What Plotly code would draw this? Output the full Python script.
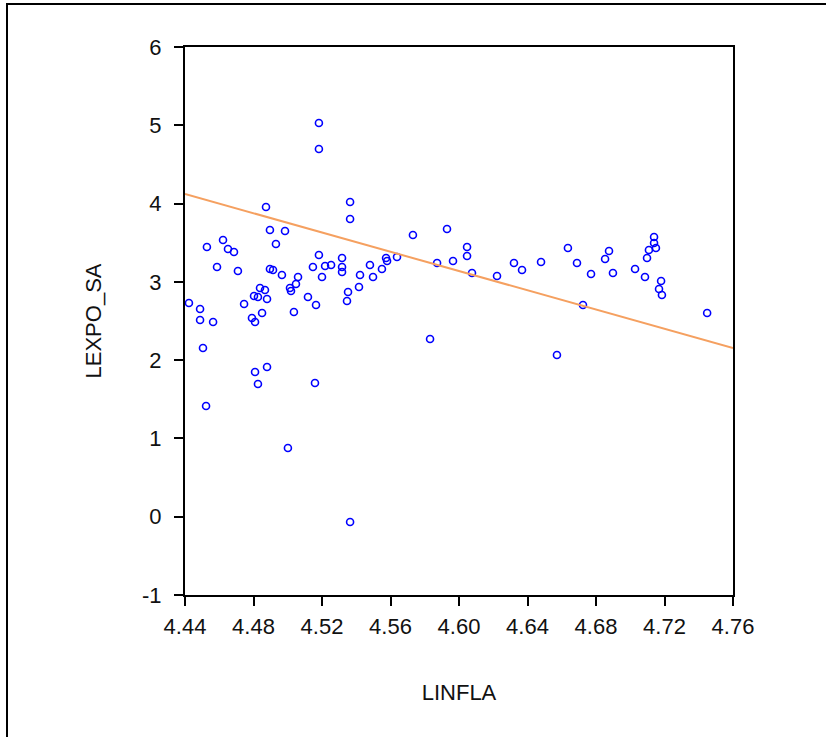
import plotly.graph_objects as go

linfla = [4.4423, 4.4488, 4.4488, 4.4528, 4.4505, 4.4523, 4.4564, 4.4587, 4.4622, 4.4651,
          4.4686, 4.4709, 4.4745, 4.4791, 4.4809, 4.4803, 4.4826, 4.4809, 4.4826, 4.4838,
          4.4867, 4.4879, 4.4850, 4.4873, 4.4879, 4.4896, 4.4896, 4.4914, 4.4931, 4.4966,
          4.4984, 4.5001, 4.5013, 4.5019, 4.5036, 4.5048, 4.5060, 4.5118, 4.5165, 4.5159,
          4.5182, 4.5182, 4.5182, 4.5147, 4.5200, 4.5218, 4.5253, 4.5317, 4.5317, 4.5317,
          4.5346, 4.5352, 4.5364, 4.5364, 4.5364, 4.5416, 4.5422, 4.5480, 4.5498, 4.5550,
          4.5574, 4.5580, 4.5638, 4.5731, 4.5831, 4.5872, 4.5930, 4.5965, 4.6047, 4.6047,
          4.6076, 4.6222, 4.6321, 4.6368, 4.6479, 4.6572, 4.6636, 4.6689, 4.6724, 4.6771,
          4.6853, 4.6876, 4.6899, 4.7028, 4.7086, 4.7098, 4.7109, 4.7139, 4.7139, 4.7150,
          4.7168, 4.7180, 4.7185, 4.7449]

lexpo_sa = [2.730, 2.653, 2.513, 3.445, 2.155, 1.415, 2.487, 3.190, 3.535, 3.420,
            3.382, 3.139, 2.717, 2.539, 2.487, 2.820, 2.807, 1.849, 1.695, 2.922,
            2.896, 2.781, 2.602, 3.956, 1.913, 3.663, 3.164, 3.152, 3.484, 3.088,
            3.650, 0.878, 2.922, 2.883, 2.615, 2.973, 3.062, 2.807, 2.705, 1.708,
            5.029, 4.697, 3.343, 3.190, 3.062, 3.203, 3.215, 3.305, 3.190, 3.126,
            2.756, 2.871, -0.067, 4.020, 3.803, 2.935, 3.088, 3.215, 3.062, 3.164,
            3.305, 3.267, 3.318, 3.599, 2.270, 3.241, 3.675, 3.267, 3.445, 3.330,
            3.113, 3.075, 3.241, 3.152, 3.254, 2.066, 3.433, 3.241, 2.705, 3.100,
            3.292, 3.394, 3.113, 3.164, 3.062, 3.305, 3.407, 3.573, 3.497, 3.433,
            2.909, 3.011, 2.833, 2.602]

fit_x = [4.44, 4.76]
fit_y = [4.122, 2.155]

x_ticks = [4.44, 4.48, 4.52, 4.56, 4.60, 4.64, 4.68, 4.72, 4.76]
x_tick_labels = ["4.44", "4.48", "4.52", "4.56", "4.60", "4.64", "4.68", "4.72", "4.76"]
y_ticks = [-1, 0, 1, 2, 3, 4, 5, 6]
y_tick_labels = ["-1", "0", "1", "2", "3", "4", "5", "6"]

fig = go.Figure()
fig.add_trace(go.Scatter(
    x=linfla, y=lexpo_sa, mode="markers",
    marker=dict(symbol="circle-open", size=7, color="#0000FF", line=dict(width=1.6, color="#0000FF")),
    showlegend=False, cliponaxis=False))
fig.add_trace(go.Scatter(
    x=fit_x, y=fit_y, mode="lines",
    line=dict(color="#F5A060", width=2), showlegend=False))

W, H = 826, 737
L, R, T, B = 185, 733, 47, 595
pw, ph = R - L, B - T

def px(xp):
    return (xp - L) / pw

def py(yp):
    return (B - yp) / ph

fig.add_shape(type="rect", xref="paper", yref="paper",
              x0=px(7), x1=px(840), y0=py(750), y1=py(4),
              line=dict(color="black", width=2), fillcolor="rgba(0,0,0,0)", layer="below")

font = dict(family="Liberation Sans, Arial, sans-serif", size=22, color="#111111")

fig.update_layout(
    width=W, height=H,
    margin=dict(l=L, r=W - R, t=T, b=H - B, pad=0),
    paper_bgcolor="white", plot_bgcolor="white",
    font=font,
    xaxis=dict(range=[4.44, 4.76], tickvals=x_ticks, ticktext=x_tick_labels,
               showgrid=False, zeroline=False, showline=True, linecolor="black", linewidth=2,
               mirror=True, ticks="outside", ticklen=9, tickwidth=2, tickcolor="black",
               tickfont=font, ticklabelstandoff=2,
               title=dict(text="LINFLA", font=font, standoff=46)),
    yaxis=dict(range=[-1, 6], tickvals=y_ticks, ticktext=y_tick_labels,
               showgrid=False, zeroline=False, showline=True, linecolor="black", linewidth=2,
               mirror=True, ticks="outside", ticklen=9, tickwidth=2, tickcolor="black",
               tickfont=font, ticklabelstandoff=8,
               title=dict(text="LEXPO_SA", font=font, standoff=34)),
)

fig.write_html("out.html")
